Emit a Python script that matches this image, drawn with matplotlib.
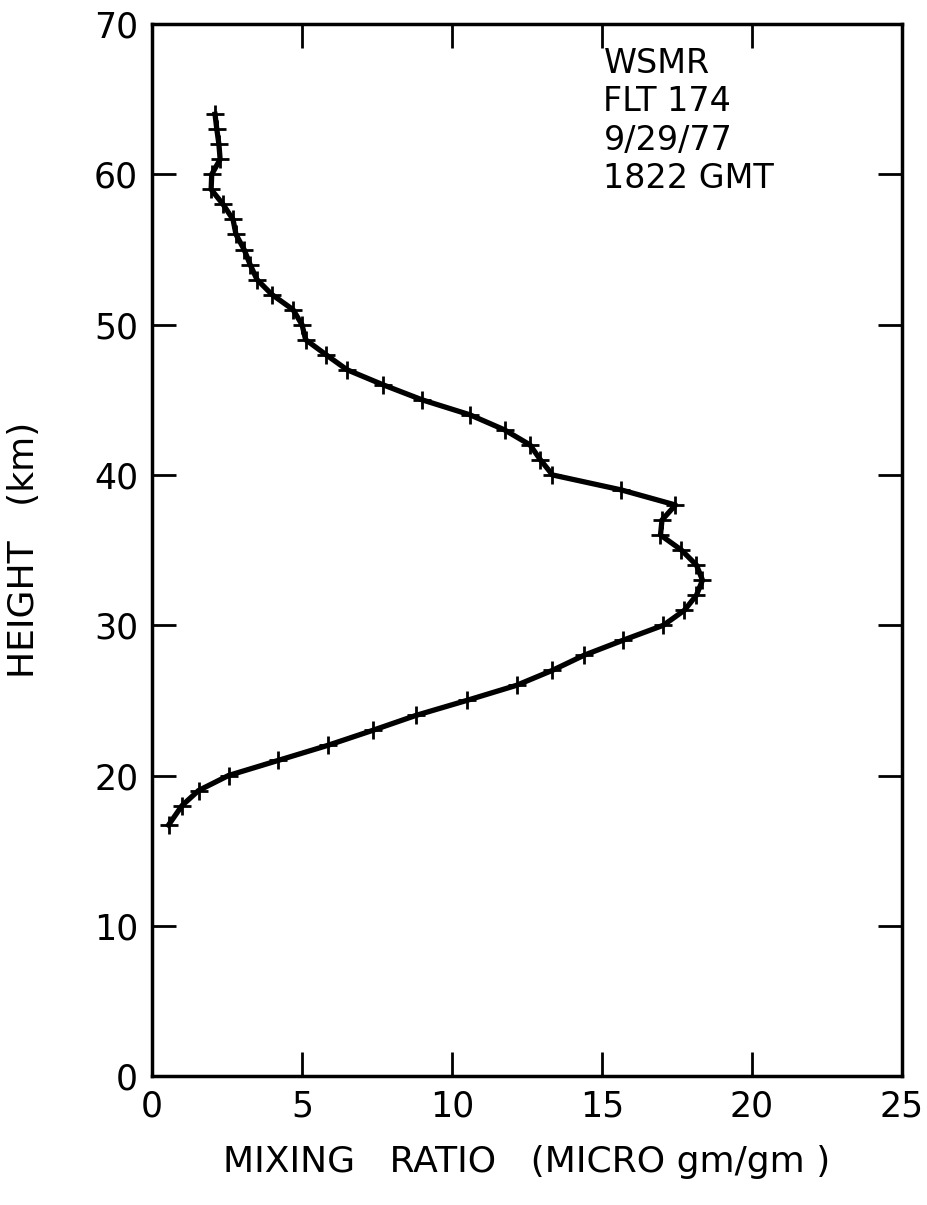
import matplotlib
matplotlib.use("Agg")
import matplotlib.pyplot as plt

# ozone mixing ratio profile, one point per km
height_km = [16.7, 18, 19, 20, 21, 22, 23, 24, 25, 26, 27, 28, 29, 30, 31, 32,
             33, 34, 35, 36, 37, 38, 39, 40, 41, 42, 43, 44, 45, 46, 47, 48,
             49, 50, 51, 52, 53, 54, 55, 56, 57, 58, 59, 60, 61, 62, 63, 64]
mixing_ratio = [0.55, 1.0, 1.55, 2.55, 4.2, 5.85, 7.35, 8.8, 10.5, 12.15,
                13.35, 14.4, 15.7, 17.05, 17.75, 18.15, 18.35, 18.15, 17.65,
                16.95, 17.0, 17.45, 15.65, 13.35, 12.95, 12.6, 11.75, 10.6,
                9.0, 7.7, 6.5, 5.8, 5.12, 5.0, 4.7, 4.0, 3.5, 3.27, 3.07, 2.8,
                2.7, 2.37, 1.97, 1.99, 2.27, 2.23, 2.16, 2.1]

x_ticks = [0, 5, 10, 15, 20, 25]
y_ticks = [0, 10, 20, 30, 40, 50, 60, 70]
flight_info = "WSMR\nFLT 174\n9/29/77\n1822 GMT"

plt.rcParams['font.family'] = ['DejaVu Sans']

fig = plt.figure(figsize=(9.27, 12.05), dpi=100)
ax = fig.add_axes([0.164, 0.107, 0.809, 0.873])

ax.plot(mixing_ratio, height_km, color='black', linewidth=3.8,
        marker='+', markersize=13, markeredgewidth=2)

ax.set_xlim(0, 25)
ax.set_ylim(0, 70)
ax.set_xticks(x_ticks)
ax.set_yticks(y_ticks)
ax.tick_params(direction='in', length=17, width=2, top=True, right=True,
               labelsize=25, pad=10)

for sp in ax.spines.values():
    sp.set_linewidth(2.5)

ax.set_xlabel("MIXING   RATIO   (MICRO gm/gm )", fontsize=26, labelpad=15)
ax.set_ylabel("HEIGHT   (km)", fontsize=26, labelpad=38)

ax.text(0.602, 0.978, flight_info, transform=ax.transAxes, fontsize=24,
        va='top', ha='left', linespacing=1.2)

fig.savefig("out.png", dpi=100, facecolor='white')
